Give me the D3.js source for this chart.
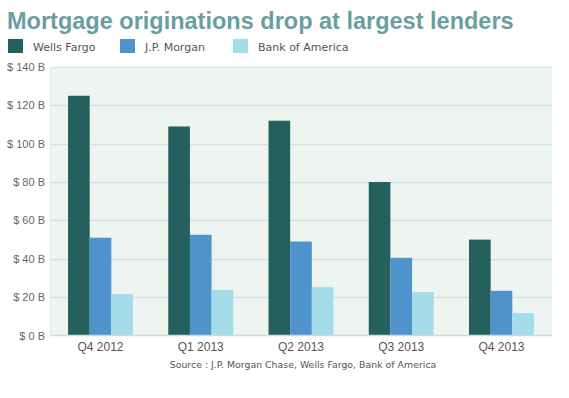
<!DOCTYPE html>
<html lang="en">
<head>
    <meta charset="UTF-8">
    <title>Mortgage originations</title>
    <script src="https://d3js.org/d3.v7.min.js"></script>
    <style>
        body { margin: 0; background: #fff; }
    </style>
</head>
<body>

    <script>

        var quarters = ["Q4 2012", "Q1 2013", "Q2 2013", "Q3 2013", "Q4 2013"];
        var lenders = ["Wells Fargo", "J.P. Morgan", "Bank of America"];
        var wellsFargo = [125, 109, 112, 80, 50];
        var jpMorgan = [51, 52.5, 49, 40.5, 23.3];
        var bankOfAmerica = [21.6, 23.8, 25.2, 22.6, 11.7];
        var yTicks = [0, 20, 40, 60, 80, 100, 120, 140];
        var colors = ["#25605f", "#4f93cc", "#a4dcea"];

        var series = [wellsFargo, jpMorgan, bankOfAmerica];

        var width = 569;
        var height = 398;
        var plot = { left: 50, right: 552, top: 67, bottom: 335.5 };

        var svg = d3.select("body")
            .append("svg")
            .attr("width", width)
            .attr("height", height);

        var x = d3.scaleBand()
            .domain(quarters)
            .range([plot.left, plot.right])
            .paddingInner(0.352)
            .paddingOuter(0.18);

        var xInner = d3.scaleBand()
            .domain(lenders)
            .range([0, x.bandwidth()]);

        var y = d3.scaleLinear()
            .domain([0, 140])
            .range([plot.bottom, plot.top]);

        // title
        svg.append("text")
            .attr("x", 7)
            .attr("y", 28.5)
            .attr("font-family", "Liberation Sans, Arial, sans-serif")
            .attr("font-weight", "bold")
            .attr("font-size", "23.5px")
            .attr("fill", "#6a9fa0")
            .text("Mortgage originations drop at largest lenders");

        // legend
        var legendX = [8, 120, 233];
        var legend = svg.selectAll(".legend")
            .data(lenders)
            .enter()
            .append("g")
            .attr("transform", function (d, i) { return "translate(" + legendX[i] + ", 39)"; });

        legend.append("rect")
            .attr("width", 15)
            .attr("height", 14)
            .attr("fill", function (d, i) { return colors[i]; });

        legend.append("text")
            .attr("x", 25)
            .attr("y", 11.7)
            .attr("font-family", "DejaVu Sans, Verdana, sans-serif")
            .attr("font-size", "11px")
            .attr("fill", "#555")
            .text(function (d) { return d; });

        // plot background
        svg.append("rect")
            .attr("x", plot.left)
            .attr("y", plot.top)
            .attr("width", plot.right - plot.left)
            .attr("height", plot.bottom - plot.top)
            .attr("fill", "#eef5f1");

        svg.append("line")
            .attr("x1", plot.left + 0.5)
            .attr("x2", plot.left + 0.5)
            .attr("y1", plot.top)
            .attr("y2", plot.bottom)
            .attr("stroke", "#dbe9e6");

        // gridlines (top one is the lighter plot border)
        svg.append("g")
            .selectAll("line")
            .data(yTicks.slice(1))
            .enter()
            .append("line")
            .attr("x1", plot.left)
            .attr("x2", plot.right)
            .attr("y1", function (d) { return Math.round(y(d)) + 0.5; })
            .attr("y2", function (d) { return Math.round(y(d)) + 0.5; })
            .attr("stroke", function (d) { return d === 140 ? "#dcebe7" : "#cfe2e1"; })
            .attr("stroke-width", 1.5);

        // bars
        var groups = svg.selectAll(".group")
            .data(quarters)
            .enter()
            .append("g")
            .attr("transform", function (d) { return "translate(" + x(d) + ", 0)"; });

        groups.selectAll("rect")
            .data(function (d, qi) {
                return series.map(function (s, si) { return { lender: lenders[si], value: s[qi], i: si }; });
            })
            .enter()
            .append("rect")
            .attr("x", function (d) { return xInner(d.lender); })
            .attr("width", xInner.bandwidth())
            .attr("y", function (d) { return y(d.value); })
            .attr("height", function (d) { return y(0) - y(d.value); })
            .attr("fill", function (d) { return colors[d.i]; });

        // baseline
        svg.append("line")
            .attr("x1", plot.left)
            .attr("x2", plot.right)
            .attr("y1", plot.bottom)
            .attr("y2", plot.bottom)
            .attr("stroke", "#c9dedd")
            .attr("stroke-width", 1.5);

        // y axis
        var yAxis = d3.axisLeft(y)
            .tickValues(yTicks)
            .tickSize(0)
            .tickPadding(5)
            .tickFormat(function (d) { return "$ " + d + " B"; });

        var yg = svg.append("g")
            .attr("transform", "translate(" + plot.left + ", 0)")
            .call(yAxis);
        yg.select(".domain").remove();
        yg.selectAll("text")
            .attr("font-family", "Liberation Sans, Arial, sans-serif")
            .attr("font-size", "11px")
            .attr("fill", "#666");

        // x axis
        var xAxis = d3.axisBottom(x)
            .tickSize(0)
            .tickPadding(7);

        var xg = svg.append("g")
            .attr("transform", "translate(0, " + plot.bottom + ")")
            .call(xAxis);
        xg.select(".domain").remove();
        xg.selectAll("text")
            .attr("font-family", "Liberation Sans, Arial, sans-serif")
            .attr("font-size", "12px")
            .attr("fill", "#555");

        // source
        svg.append("text")
            .attr("x", 303)
            .attr("y", 367.5)
            .attr("text-anchor", "middle")
            .attr("font-family", "DejaVu Sans, Verdana, sans-serif")
            .attr("font-size", "9.4px")
            .attr("fill", "#555")
            .text("Source : J.P. Morgan Chase, Wells Fargo, Bank of America");

    </script>


</body>
</html>
